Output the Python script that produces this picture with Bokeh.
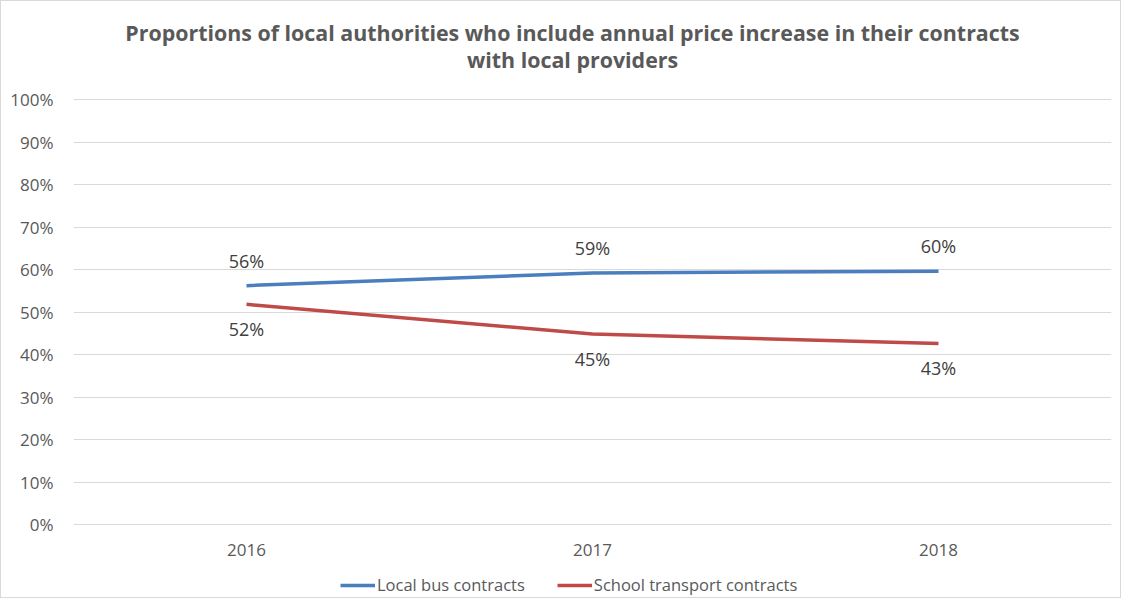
from bokeh.plotting import figure
from bokeh.models import (ColumnDataSource, FactorRange, FixedTicker, NumeralTickFormatter,
                          Legend, LegendItem, LabelSet, Label, Range1d)
from bokeh.core.properties import value
from bokeh.embed import file_html
from bokeh.resources import INLINE

years = ["2016", "2017", "2018"]
local_bus = [0.562, 0.592, 0.596]
school_transport = [0.518, 0.448, 0.426]
y_ticks = [0.0, 0.1, 0.2, 0.3, 0.4, 0.5, 0.6, 0.7, 0.8, 0.9, 1.0]
title_lines = ["Proportions of local authorities who include annual price increase in their contracts",
               "with local providers"]
series_names = ["Local bus contracts", "School transport contracts"]

FONT = "Open Sans"
BLUE = "#4A7EBF"
RED = "#BE4B48"

# the frame spans the whole height so that title, x labels and legend sit inside it;
# 0%..100% occupy 425 px, with 98 px above and 75 px below
p = figure(x_range=FactorRange(*years, range_padding=0),
           y_range=Range1d(-75 / 425, 1 + 98 / 425),
           width=1121, height=598, output_backend="svg", toolbar_location=None,
           min_border_left=72, min_border_right=11, min_border_top=0, min_border_bottom=0)
p.styles = {"border": "1px solid #d9d9d9", "box-sizing": "border-box"}
p.outline_line_color = None
p.background_fill_color = "white"
p.border_fill_color = "white"

# title lines (screen units, relative to frame bottom-left)
for t, yy in zip(title_lines, [567, 540]):
    p.add_layout(Label(x=499, y=yy, x_units="screen", y_units="screen", text=t,
                       text_align="center", text_baseline="middle",
                       text_font=FONT, text_font_size="21.4px", text_font_style="bold",
                       text_color="#595959"))

src_b = ColumnDataSource(dict(x=years, y=local_bus,
                              lab=[f"{round(v*100)}%" for v in local_bus]))
src_r = ColumnDataSource(dict(x=years, y=school_transport,
                              lab=[f"{round(v*100)}%" for v in school_transport]))

lb = p.line("x", "y", source=src_b, line_color=BLUE, line_width=3.5)
lr = p.line("x", "y", source=src_r, line_color=RED, line_width=3.5)

p.add_layout(LabelSet(x="x", y="y", text="lab", source=src_b, y_offset=25,
                      text_align="center", text_baseline="middle",
                      text_font=value(FONT), text_font_size=value("18px"), text_color="#404040"))
p.add_layout(LabelSet(x="x", y="y", text="lab", source=src_r, y_offset=-25,
                      text_align="center", text_baseline="middle",
                      text_font=value(FONT), text_font_size=value("18px"), text_color="#404040"))

p.yaxis.ticker = FixedTicker(ticks=y_ticks)
p.yaxis.formatter = NumeralTickFormatter(format="0%")
p.ygrid.ticker = FixedTicker(ticks=y_ticks)
p.ygrid.grid_line_color = "#d9d9d9"
p.ygrid.grid_line_width = 1
p.xgrid.grid_line_color = None
p.xaxis.fixed_location = 0

for ax in (p.xaxis, p.yaxis):
    ax.axis_line_color = None
    ax.major_tick_line_color = None
    ax.minor_tick_line_color = None
    ax.major_label_text_font = FONT
    ax.major_label_text_font_size = "17px"
    ax.major_label_text_color = "#595959"
p.yaxis.major_label_standoff = 14
p.xaxis.major_label_standoff = 13

legend = Legend(items=[LegendItem(label=series_names[0], renderers=[lb]),
                       LegendItem(label=series_names[1], renderers=[lr])],
                orientation="horizontal", location=(267, 3),
                label_text_font=FONT, label_text_font_size="16.5px", label_text_color="#595959",
                glyph_width=35, glyph_height=14, spacing=32, label_standoff=2,
                border_line_color=None, background_fill_alpha=0, margin=0, padding=0)
p.add_layout(legend, "center")

open("out.html", "w").write(file_html(p, INLINE))
